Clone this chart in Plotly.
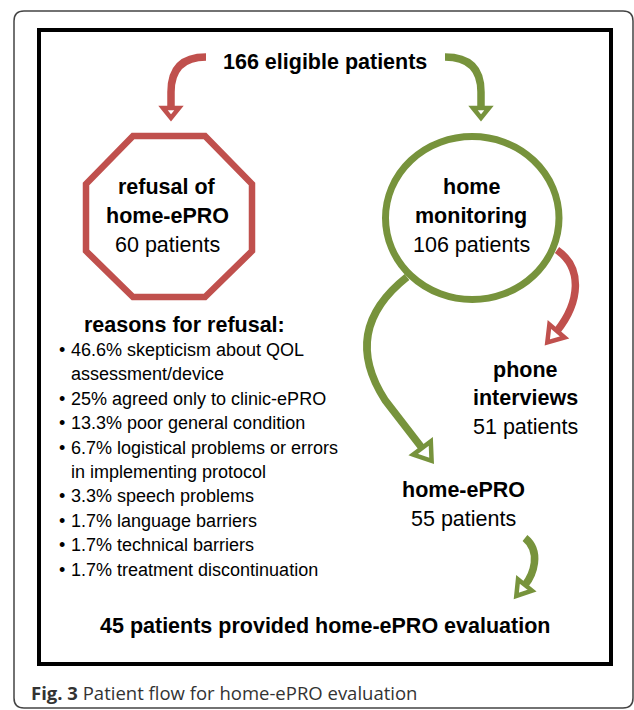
import plotly.graph_objects as go
import math

# ---------------- data ----------------
eligible = 166
refused = 60
home_monitoring = 106
phone_interviews = 51
home_epro = 55
evaluated = 45

reason_pcts = [46.6, 25, 13.3, 6.7, 3.3, 1.7, 1.7, 1.7]
reason_lines = [
    ["skepticism about QOL", "assessment/device"],
    ["agreed only to clinic-ePRO"],
    ["poor general condition"],
    ["logistical problems or errors", "in implementing protocol"],
    ["speech problems"],
    ["language barriers"],
    ["technical barriers"],
    ["treatment discontinuation"],
]
caption_bold = "Fig. 3"
caption_text = "Patient flow for home-ePRO evaluation"

# ---------------- styles ----------------
RED = "#C0504D"
GREEN = "#77933C"
FONT = "Liberation Sans"
BIG = 21.5
SMALL = 18

fig = go.Figure()
shapes = []
ann = []


def text(x, y, s, size=BIG, bold=False, xanchor="center", color="black", family=FONT):
    ann.append(dict(x=x, y=y, xref="x", yref="y", text=(f"<b>{s}</b>" if bold else s),
                    showarrow=False, xanchor=xanchor, yanchor="middle",
                    font=dict(family=family, size=size, color=color)))


def stem(path, color, w=7.5):
    shapes.append(dict(type="path", path=path, xref="x", yref="y",
                       line=dict(color=color, width=w), fillcolor="rgba(0,0,0,0)"))


def head(bx, by, dx, dy, color, L=11, hw=9, w=4.5):
    n = math.hypot(dx, dy)
    dx, dy = dx / n, dy / n
    px, py = -dy, dx
    tx, ty = bx + L * dx, by + L * dy
    p = (f"M {bx + hw*px:.1f} {by + hw*py:.1f} L {tx:.1f} {ty:.1f} "
         f"L {bx - hw*px:.1f} {by - hw*py:.1f} Z")
    shapes.append(dict(type="path", path=p, xref="x", yref="y",
                       line=dict(color=color, width=w), fillcolor="white"))


# outer rounded frame
shapes.append(dict(type="path", xref="x", yref="y",
                   path="M 24 11 L 623 11 Q 633 11 633 21 L 633 698 Q 633 708 623 708 "
                        "L 24 708 Q 14 708 14 698 L 14 21 Q 14 11 24 11 Z",
                   line=dict(color="#444444", width=1.5), fillcolor="white"))
# inner black frame
shapes.append(dict(type="rect", xref="x", yref="y", x0=39, x1=611, y0=30, y1=664,
                   line=dict(color="black", width=4), fillcolor="white"))

# octagon
oct_pts = [(133, 136), (205, 136), (252, 184), (252, 251), (205, 297), (133, 297), (86, 251), (86, 184)]
shapes.append(dict(type="path", xref="x", yref="y",
                   path="M " + " L ".join(f"{a} {b}" for a, b in oct_pts) + " Z",
                   line=dict(color=RED, width=6.5), fillcolor="rgba(0,0,0,0)"))
# circle
shapes.append(dict(type="circle", xref="x", yref="y", x0=385.5, x1=559, y0=136.5, y1=299.5,
                   line=dict(color=GREEN, width=7), fillcolor="rgba(0,0,0,0)"))

# arrows
stem("M 206 57 Q 171 57 171 92 L 171 108", RED)
head(171, 108, 0, 1, RED, L=10, hw=8)
stem("M 445 57 Q 481 57 481 92 L 481 108", GREEN)
head(481, 108, 0, 1, GREEN, L=10, hw=8)

stem("M 557 250 C 583 268, 580 302, 557 331", RED, 7.5)
head(557, 331, -0.65, 0.76, RED, L=15, hw=10)

stem("M 407 277 Q 340 330 385 400 L 422 448", GREEN, 7.5)
head(422, 448, 0.6, 0.8, GREEN, L=16, hw=11)

stem("M 525 538 C 542 552, 533 575, 525 585", GREEN, 7.5)
head(525, 585, -0.62, 0.78, GREEN, L=14, hw=9)

# texts
text(325, 62, f"{eligible} eligible patients", bold=True)
text(167, 187, "refusal of", bold=True)
text(167, 216, "home-ePRO", bold=True)
text(167, 245, f"{refused} patients")
text(471, 187, "home", bold=True)
text(471, 216, "monitoring", bold=True)
text(471, 245, f"{home_monitoring} patients")
text(525, 370, "phone", bold=True)
text(525, 398, "interviews", bold=True)
text(525, 427, f"{phone_interviews} patients")
text(463, 490, "home-ePRO", bold=True)
text(463, 519, f"{home_epro} patients")
text(325, 626, f"{evaluated} patients provided home-ePRO evaluation", bold=True)

text(82, 325, "reasons for refusal:", bold=True, xanchor="left")
y = 350
step = 24.4
for pct, lines in zip(reason_pcts, reason_lines):
    text(62, y, "•", size=SMALL)
    for i, ln in enumerate(lines):
        s = f"{pct:g}% {ln}" if i == 0 else ln
        text(69, y, s, size=SMALL, xanchor="left")
        y += step

ann.append(dict(x=29, y=692, xref="x", yref="y", showarrow=False, xanchor="left", yanchor="middle",
                text=f"<b>{caption_bold}</b> {caption_text}",
                font=dict(family="Open Sans", size=18.5, color="#333333")))

fig.update_layout(width=634, height=710, margin=dict(l=0, r=0, t=0, b=0),
                  paper_bgcolor="white", plot_bgcolor="white",
                  shapes=shapes, annotations=ann, showlegend=False)
fig.update_xaxes(range=[0, 634], visible=False, fixedrange=True)
fig.update_yaxes(range=[710, 0], visible=False, fixedrange=True)
fig.write_html("out.html", config={"displayModeBar": False},
               post_script="document.body.style.margin='0';document.body.style.overflow='hidden';")
